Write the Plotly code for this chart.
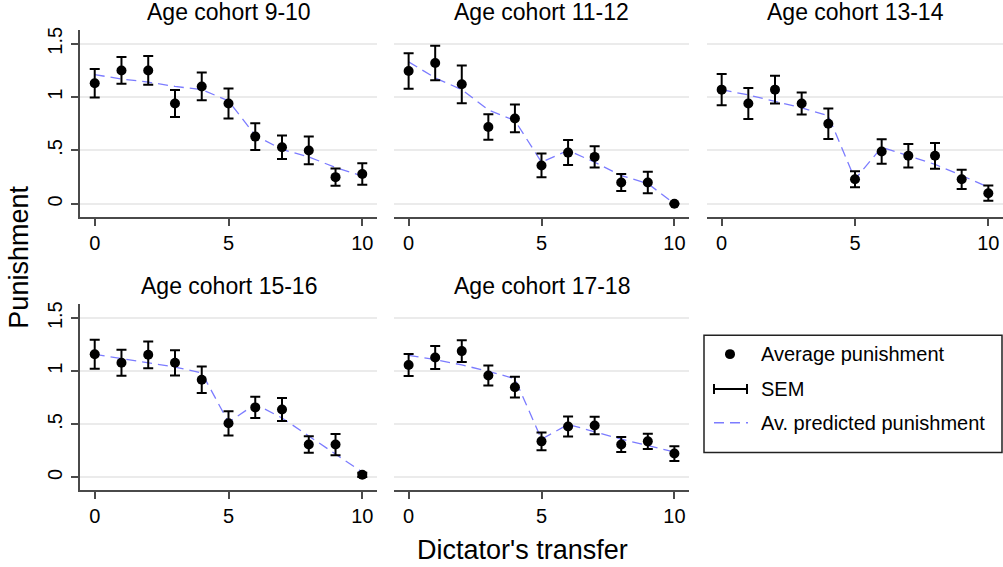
import plotly.graph_objects as go

W, H = 1003, 567

transfer = list(range(11))

titles = ["Age cohort 9-10", "Age cohort 11-12", "Age cohort 13-14",
          "Age cohort 15-16", "Age cohort 17-18"]

avg_9_10 = [1.13, 1.25, 1.25, 0.94, 1.10, 0.94, 0.63, 0.53, 0.50, 0.25, 0.28]
sem_9_10 = [0.134, 0.125, 0.135, 0.127, 0.13, 0.14, 0.125, 0.11, 0.13, 0.08, 0.10]
pred_9_10 = [1.21, 1.17, 1.14, 1.10, 1.07, 0.965, 0.64, 0.51, 0.44, 0.34, 0.26]

avg_11_12 = [1.245, 1.32, 1.12, 0.72, 0.80, 0.36, 0.48, 0.44, 0.20, 0.20, 0.0]
sem_11_12 = [0.167, 0.162, 0.177, 0.12, 0.13, 0.112, 0.117, 0.10, 0.08, 0.10, 0.0]
pred_11_12 = [1.33, 1.18, 1.07, 0.88, 0.78, 0.39, 0.50, 0.39, 0.265, 0.19, 0.0]

avg_13_14 = [1.07, 0.94, 1.07, 0.94, 0.75, 0.23, 0.49, 0.45, 0.45, 0.23, 0.10]
sem_13_14 = [0.146, 0.145, 0.13, 0.104, 0.143, 0.075, 0.114, 0.11, 0.121, 0.09, 0.072]
pred_13_14 = [1.07, 1.02, 0.96, 0.90, 0.825, 0.23, 0.53, 0.45, 0.37, 0.265, 0.156]

avg_15_16 = [1.16, 1.08, 1.155, 1.08, 0.92, 0.51, 0.66, 0.64, 0.31, 0.31, 0.025]
sem_15_16 = [0.137, 0.123, 0.126, 0.119, 0.125, 0.114, 0.10, 0.108, 0.077, 0.10, 0.02]
pred_15_16 = [1.16, 1.12, 1.08, 1.04, 0.985, 0.52, 0.69, 0.56, 0.39, 0.22, 0.05]

avg_17_18 = [1.06, 1.13, 1.19, 0.96, 0.85, 0.34, 0.48, 0.49, 0.31, 0.34, 0.225]
sem_17_18 = [0.104, 0.108, 0.102, 0.094, 0.098, 0.083, 0.094, 0.082, 0.071, 0.072, 0.07]
pred_17_18 = [1.15, 1.11, 1.06, 1.00, 0.93, 0.36, 0.50, 0.43, 0.36, 0.30, 0.24]

avgs = [avg_9_10, avg_11_12, avg_13_14, avg_15_16, avg_17_18]
sems = [sem_9_10, sem_11_12, sem_13_14, sem_15_16, sem_17_18]
preds = [pred_9_10, pred_11_12, pred_13_14, pred_15_16, pred_17_18]

y_tickvals = [0, 0.5, 1, 1.5]
y_ticktext = ["0", ".5", "1", "1.5"]
x_tickvals = [0, 5, 10]

legend_labels = ["Average punishment", "SEM", "Av. predicted punishment"]

PRED_COLOR = "#7c7cff"
AXIS_COLOR = "#4a4a4a"
GRID_COLOR = "#ebebeb"
FONT = "Liberation Sans, Arial, sans-serif"


def px(x):
    return x / W


def py(y):
    return 1 - y / H


# panel pixel boxes (left, right), (top, bottom)
cols = [(80, 377), (394, 689), (707, 1003)]
rows = [(27, 215), (303, 490)]
positions = [(0, 0), (0, 1), (0, 2), (1, 0), (1, 1)]

fig = go.Figure()
annotations = []
shapes = []

for i in range(5):
    r, c = positions[i]
    n = i + 1
    xa = "x" if n == 1 else f"x{n}"
    ya = "y" if n == 1 else f"y{n}"
    fig.add_trace(go.Scatter(
        x=transfer, y=preds[i], mode="lines", xaxis=xa, yaxis=ya,
        line=dict(color=PRED_COLOR, width=1.3, dash="10px,6px"),
        showlegend=False, hoverinfo="skip"))
    fig.add_trace(go.Scatter(
        x=transfer, y=avgs[i], mode="markers", xaxis=xa, yaxis=ya,
        marker=dict(color="black", size=10),
        error_y=dict(type="data", array=sems[i], visible=True,
                     color="black", thickness=2, width=5),
        showlegend=False))

    xl, xr = cols[c]
    yt, yb = rows[r]
    first = (c == 0)
    fig.layout[f"xaxis{'' if n == 1 else n}"] = dict(
        domain=[px(xl), px(xr)], range=[-0.55, 10.55], anchor=ya,
        tickvals=x_tickvals, ticks="outside", ticklen=7, tickwidth=2,
        tickcolor=AXIS_COLOR, showline=True, linecolor=AXIS_COLOR, linewidth=2,
        showgrid=False, zeroline=False, ticklabelstandoff=0,
        tickfont=dict(family=FONT, size=20, color="black"))
    fig.layout[f"yaxis{'' if n == 1 else n}"] = dict(
        domain=[py(yb), py(yt)], range=[-0.122, 1.63], anchor=xa,
        tickvals=y_tickvals, ticktext=y_ticktext,
        ticks="outside" if first else "", ticklen=7, tickwidth=2,
        tickcolor=AXIS_COLOR, showline=first, linecolor=AXIS_COLOR, linewidth=2,
        showticklabels=first, tickangle=-90, ticklabelstandoff=1,
        showgrid=True, gridcolor=GRID_COLOR, gridwidth=1.5, zeroline=False,
        tickfont=dict(family=FONT, size=20, color="black"))
    annotations.append(dict(
        text=titles[i], xref="paper", yref="paper",
        x=px((xl + xr) / 2), y=py(9 if r == 0 else 285),
        xanchor="center", yanchor="middle", showarrow=False,
        font=dict(family=FONT, size=23, color="black")))

# axis titles
annotations.append(dict(text="Punishment", xref="paper", yref="paper",
                        x=px(19), y=py(256), textangle=-90, showarrow=False,
                        xanchor="center", yanchor="middle",
                        font=dict(family=FONT, size=27, color="black")))
annotations.append(dict(text="Dictator's transfer", xref="paper", yref="paper",
                        x=px(522), y=py(550), showarrow=False,
                        xanchor="center", yanchor="middle",
                        font=dict(family=FONT, size=27, color="black")))

# legend box
shapes.append(dict(type="rect", xref="paper", yref="paper",
                   x0=px(704), x1=px(1002), y0=py(452), y1=py(334),
                   line=dict(color="#222222", width=1.5), fillcolor="white"))
leg_y = [353, 388, 422]
for lab, yy in zip(legend_labels, leg_y):
    annotations.append(dict(text=lab, xref="paper", yref="paper",
                            x=px(759), y=py(yy), xanchor="left", yanchor="middle",
                            showarrow=False,
                            font=dict(family=FONT, size=20, color="black")))
# dot glyph
shapes.append(dict(type="circle", xref="paper", yref="paper",
                   x0=px(725), x1=px(735), y0=py(358), y1=py(348),
                   fillcolor="black", line=dict(color="black", width=0)))
# SEM glyph
shapes.append(dict(type="line", xref="paper", yref="paper",
                   x0=px(714), x1=px(747), y0=py(388), y1=py(388),
                   line=dict(color="black", width=2)))
for xx in (714, 747):
    shapes.append(dict(type="line", xref="paper", yref="paper",
                       x0=px(xx), x1=px(xx), y0=py(383), y1=py(393),
                       line=dict(color="black", width=2)))
# predicted glyph
shapes.append(dict(type="line", xref="paper", yref="paper",
                   x0=px(714), x1=px(748), y0=py(422), y1=py(422),
                   line=dict(color=PRED_COLOR, width=1.3, dash="10px,6px")))

fig.update_layout(
    width=W, height=H, autosize=False,
    margin=dict(l=0, r=0, t=0, b=0),
    paper_bgcolor="white", plot_bgcolor="white",
    showlegend=False,
    annotations=annotations, shapes=shapes,
    font=dict(family=FONT, color="black"),
)

fig.write_html("out.html",
               config={"displayModeBar": False},
               post_script="document.body.style.margin='0';"
                           "document.body.style.overflow='hidden';")
